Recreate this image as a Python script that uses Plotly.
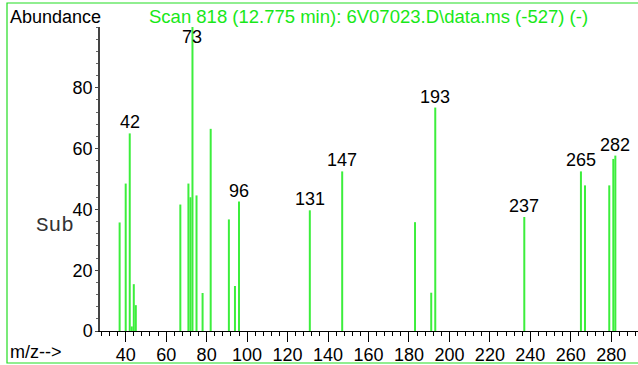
import plotly.graph_objects as go

# ---- data ----
mz = [37, 40, 42, 43, 44, 45, 67, 71, 72, 73, 75, 78, 82, 91, 94, 96,
      131, 147, 183, 191, 193, 237, 265, 267, 279, 281, 282]
abundance = [35.7, 48.5, 65.0, 1.5, 15.4, 8.5, 41.6, 48.5, 44.0, 100.0, 44.6, 12.5, 66.5,
             36.7, 14.8, 42.6, 39.7, 52.5, 35.8, 12.6, 73.5, 37.5, 52.5, 47.9, 47.9, 56.6, 57.7]
labelled = [42, 73, 96, 131, 147, 193, 237, 265, 282]
y_ticks = [0, 20, 40, 60, 80]
title_text = "Scan 818 (12.775 min): 6V07023.D\\data.ms (-527) (-)"

GREEN = "#3cee3c"
TEXT_GREEN = "#18e818"
FONT = "Liberation Sans, Arial, sans-serif"

W, H = 638, 365
ML, MR, MT, MB = 100, 0, 27, 34
PW, PH = W - ML - MR, H - MT - MB


def px(x):
    return (x - ML) / PW


def py(y):
    return (H - MB - y) / PH


xs, ys = [], []
for m, a in zip(mz, abundance):
    xs += [m, m, None]
    ys += [0, a, None]

fig = go.Figure()
fig.add_trace(go.Scatter(x=xs, y=ys, mode="lines",
                         line=dict(color=GREEN, width=2),
                         hoverinfo="skip", showlegend=False))

ann = []
for m, a in zip(mz, abundance):
    if m in labelled:
        ann.append(dict(x=m, y=min(a, 93), xref="x", yref="y", text=str(m),
                        showarrow=False, yanchor="bottom", xanchor="center",
                        yshift=-1,
                        font=dict(family=FONT, size=18, color="black")))

ann += [
    dict(x=px(8), y=py(17), xref="paper", yref="paper", text="Abundance",
         showarrow=False, xanchor="left", yanchor="middle",
         font=dict(family=FONT, size=18, color="black")),
    dict(x=px(368), y=py(17), xref="paper", yref="paper", text=title_text,
         showarrow=False, xanchor="center", yanchor="middle",
         font=dict(family=FONT, size=18.5, color=TEXT_GREEN)),
    dict(x=px(8), y=py(352), xref="paper", yref="paper", text="m/z-->",
         showarrow=False, xanchor="left", yanchor="middle",
         font=dict(family=FONT, size=18, color="black")),
    dict(x=px(55), y=py(225), xref="paper", yref="paper", text="Sub",
         showarrow=False, xanchor="center", yanchor="middle",
         font=dict(family="Courier New, Liberation Mono, monospace", size=21, color="#333")),
]

fig.update_layout(
    width=W, height=H,
    margin=dict(l=ML, r=MR, t=MT, b=MB, pad=0),
    paper_bgcolor="white", plot_bgcolor="white",
    annotations=ann,
    shapes=[dict(type="rect", xref="paper", yref="paper",
                 x0=px(7), x1=px(645), y0=py(363), y1=py(3),
                 line=dict(color="#22dd22", width=1.2), layer="below")],
    xaxis=dict(range=[27.3, 293.2], showgrid=False, zeroline=False,
               showline=True, linecolor="black", linewidth=1,
               ticks="outside", ticklen=10, tickwidth=1, tickcolor="black",
               tick0=0, dtick=20, ticklabelstandoff=-3,
               minor=dict(ticks="outside", dtick=4, tick0=0, ticklen=4,
                          tickcolor="black", tickwidth=1),
               tickfont=dict(family=FONT, size=18, color="black")),
    yaxis=dict(range=[0, 100], showgrid=False, zeroline=False,
               showline=True, linecolor="#444", linewidth=1.5,
               ticks="outside", ticklen=3, tickwidth=1, tickcolor="#444",
               tickvals=y_ticks, ticklabelstandoff=-1,
               minor=dict(ticks="outside", dtick=4, tick0=0, ticklen=2,
                          tickcolor="#666", tickwidth=1),
               tickfont=dict(family=FONT, size=18, color="black")),
)

fig.write_html("out.html")
